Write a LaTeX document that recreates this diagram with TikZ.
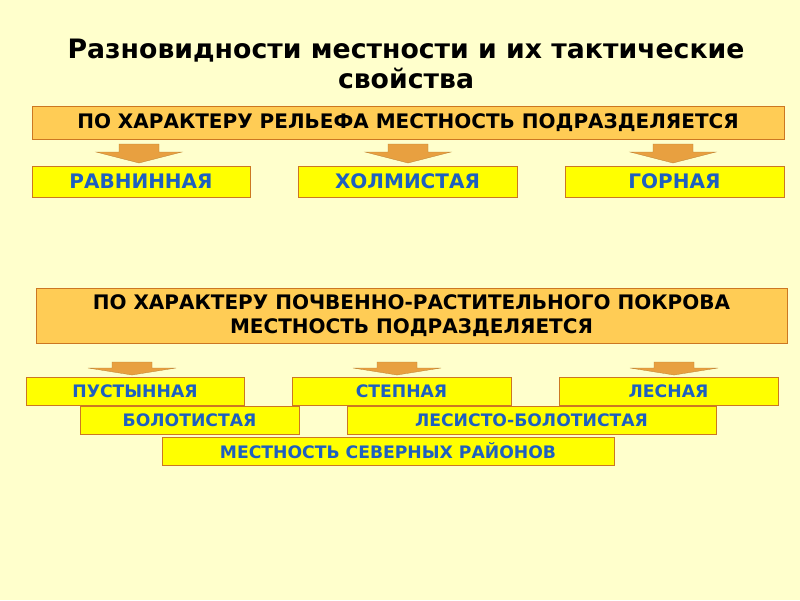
\documentclass[tikz,border=0pt]{standalone}
\usepackage{fontspec}
\setmainfont{DejaVu Sans}
\definecolor{bgc}{HTML}{FFFFCC}
\definecolor{orfill}{HTML}{FFCC55}
\definecolor{yfill}{HTML}{FFFF00}
\definecolor{bord}{HTML}{CC7722}
\definecolor{arrc}{HTML}{E8A040}
\definecolor{bluet}{HTML}{1E5FC0}
\begin{document}
\begin{tikzpicture}[x=1pt,y=-1pt]
\tikzset{
  headbox/.style={draw=bord, line width=0.8pt, fill=orfill, font=\bfseries\fontsize{20}{24}\selectfont, text=black, align=center, inner sep=0pt},
  catbox/.style={draw=bord, line width=0.8pt, fill=yfill, font=\bfseries\fontsize{20}{24}\selectfont, text=bluet, inner sep=0pt},
  catboxs/.style={catbox, font=\bfseries\fontsize{17.2}{20}\selectfont},
  blockarrow/.style={fill=arrc, draw=arrc!80!black, line width=0.3pt}
}
\fill[bgc] (0,0) rectangle (800,600);
\useasboundingbox (0,0) rectangle (800,600);
% title
\node[font=\bfseries\fontsize{26.7}{30}\selectfont, align=center] (title) at (406,64) {Разновидности местности и их тактические\\свойства};
% header 1
\node[headbox, minimum width=752pt, minimum height=33pt] (h1) at (408,122.5) {ПО ХАРАКТЕРУ РЕЛЬЕФА МЕСТНОСТЬ ПОДРАЗДЕЛЯЕТСЯ};
% row 1
\node[catbox, minimum width=218pt, minimum height=31pt] (r1a) at (141,181.5) {РАВНИННАЯ};
\node[catbox, minimum width=219pt, minimum height=31pt] (r1b) at (407.5,181.5) {ХОЛМИСТАЯ};
\node[catbox, minimum width=219pt, minimum height=31pt] (r1c) at (674.5,181.5) {ГОРНАЯ};
% arrows row 1
\foreach \n/\cx in {a1/139, a2/408, a3/673}{
  \coordinate (\n) at (\cx,144);
  \fill[blockarrow] (\n) ++(-20,0) -- ++(40,0) -- ++(0,8) -- ++(23,0) -- ++(-43,11) -- ++(-43,-11) -- ++(23,0) -- cycle;
}
% header 2
\node[headbox, minimum width=751pt, minimum height=55pt] (h2) at (411.5,315.5) {ПО ХАРАКТЕРУ ПОЧВЕННО-РАСТИТЕЛЬНОГО ПОКРОВА\\МЕСТНОСТЬ ПОДРАЗДЕЛЯЕТСЯ};
% arrows row 2
\foreach \n/\cx in {b1/132, b2/397, b3/674}{
  \coordinate (\n) at (\cx,362);
  \fill[blockarrow] (\n) ++(-20,0) -- ++(40,0) -- ++(0,6) -- ++(24,0) -- ++(-44,7) -- ++(-44,-7) -- ++(24,0) -- cycle;
}
% row 2
\node[catboxs, minimum width=218pt, minimum height=28pt] (p1) at (135,391) {ПУСТЫННАЯ};
\node[catboxs, minimum width=219pt, minimum height=28pt] (p2) at (401.5,391) {СТЕПНАЯ};
\node[catboxs, minimum width=219pt, minimum height=28pt] (p3) at (668.5,391) {ЛЕСНАЯ};
\node[catboxs, minimum width=219pt, minimum height=28pt] (p4) at (189.5,420) {БОЛОТИСТАЯ};
\node[catboxs, minimum width=369pt, minimum height=28pt] (p5) at (531.5,420) {ЛЕСИСТО-БОЛОТИСТАЯ};
\node[catboxs, minimum width=452pt, minimum height=28pt] (p6) at (388,451) {МЕСТНОСТЬ СЕВЕРНЫХ РАЙОНОВ};
\end{tikzpicture}
\end{document}
